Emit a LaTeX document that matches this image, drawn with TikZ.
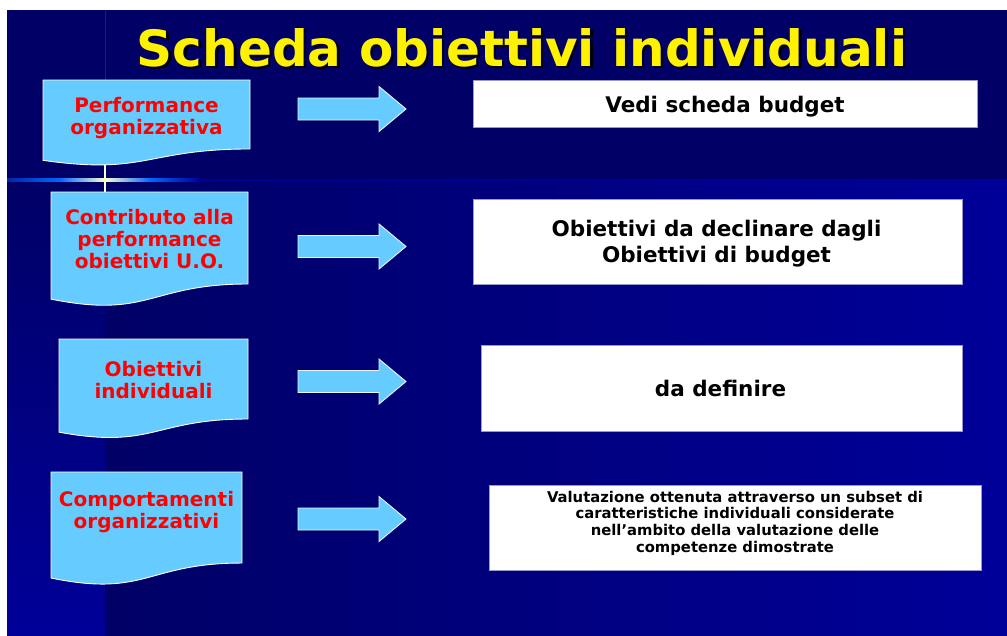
\documentclass[tikz,border=0pt]{standalone}
\usepackage{fontspec}
\setmainfont{DejaVu Sans}
\definecolor{navy}{HTML}{000066}
\definecolor{bluebg}{HTML}{000099}
\definecolor{lblue}{HTML}{66CCFF}
\definecolor{lav}{HTML}{9999CC}
\definecolor{glow}{HTML}{0066FF}
\definecolor{cream}{HTML}{FFFFCC}
\newcommand{\docshape}[4]{% L R T h
  \draw[docsty] (#1,#3) -- (#2,#3) -- (#2,{#3+0.802*#4})
    .. controls ({(#1+#2)/2},{#3+0.802*#4}) and ({(#1+#2)/2},{#3+1.1075*#4}) .. (#1,{#3+0.934*#4}) -- cycle;}
\newcommand{\blockarrow}[1]{%
  \draw[arrsty] (298,{#1-11}) -- (379,{#1-11}) -- (379,{#1-22.5}) -- (406,#1) -- (379,{#1+22.5}) -- (379,{#1+11}) -- (298,{#1+11}) -- cycle;}
\newcommand{\shadowtext}[1]{\makebox[0pt][l]{\hspace{2.5pt}\raisebox{-2.5pt}{\color{black}#1}}\color{yellow}#1}
\begin{document}
\begin{tikzpicture}[x=1pt,y=-1pt,
  docsty/.style={fill=lblue, draw=white, line width=0.9pt},
  arrsty/.style={fill=lblue, draw=white!85!lblue, line width=0.9pt, line join=miter},
  lbl/.style={text=red, font=\fontsize{20}{22}\selectfont\bfseries, align=center, inner sep=0pt},
  wbox/.style={fill=white, draw=lav, line width=0.8pt, inner sep=0pt},
  wtxt/.style={text=black, font=\fontsize{21.5}{26}\selectfont\bfseries, align=center, inner sep=0pt},
  wsmall/.style={text=black, font=\fontsize{14.8}{16.7}\selectfont\bfseries, align=center, inner sep=0pt},
  titlesty/.style={font=\fontsize{50}{60}\selectfont\bfseries, anchor=base, inner sep=0pt},
  link/.style={draw=cream, line width=2pt}
]
\useasboundingbox (0,0) rectangle (1007,635);
\fill[white] (0,0) rectangle (1007,635);
% slide background
\fill[navy] (7,10) rectangle (1007,179);
\shade[left color=navy, right color=bluebg] (105,179) rectangle (1007,635);
\shade[top color=navy, bottom color=bluebg] (7,179) rectangle (105,635);
\draw[bluebg!80!white, line width=0.8pt, opacity=0.5] (105,10) -- (105,80);
% horizontal glow line
\shade[left color=glow!40!navy, right color=glow] (7,178.8) rectangle (60,181.2);
\shade[left color=glow, right color=cream] (60,178.8) rectangle (105,181.2);
\shade[left color=cream, right color=glow] (105,178.8) rectangle (150,181.2);
\shade[left color=glow, right color=bluebg] (150,178.8) rectangle (200,181.2);
\fill[bluebg] (200,179) rectangle (1007,181);
% title
\node[titlesty] (title) at (522,66) {\shadowtext{Scheda obiettivi individuali}};
% document boxes
\docshape{43}{250}{80}{86}
\docshape{51}{248}{192}{114.7}
\docshape{59}{248}{339}{99.75}
\docshape{51}{242}{472}{113.5}
\coordinate (d1b) at (105,165);
\coordinate (d2t) at (105,192);
\draw[link] (d1b) -- (d2t);
\node[lbl] (d1) at (146.5,118.2) {Performance\\organizzativa};
\node[lbl] (d2) at (149.5,239) {Contributo alla\\performance\\obiettivi U.O.};
\node[lbl] (d3) at (153.5,380.5) {Obiettivi\\individuali};
\node[lbl] (d4) at (146.5,512.5) {Comportamenti\\organizzativi};
% arrows
\blockarrow{109}
\blockarrow{246.5}
\blockarrow{381.5}
\blockarrow{519}
% white boxes
\node[wbox, minimum width=504pt, minimum height=47pt] (w1) at (725,103.5) {};
\node[wbox, minimum width=489pt, minimum height=85pt] (w2) at (717.5,241.5) {};
\node[wbox, minimum width=481pt, minimum height=86pt] (w3) at (721.5,388) {};
\node[wbox, minimum width=492pt, minimum height=85pt] (w4) at (735,527.5) {};
\node[wtxt] (w1t) at (725,106.8) {Vedi scheda budget};
\node[wtxt] (w2t) at (716.5,244) {Obiettivi da declinare dagli\\Obiettivi di budget};
\node[wtxt] (w3t) at (720.5,388.4) {da definire};
\node[wsmall] (w4t) at (735,523) {Valutazione ottenuta attraverso un subset di\\caratteristiche individuali considerate\\nell’ambito della valutazione delle\\competenze dimostrate};
\end{tikzpicture}
\end{document}
